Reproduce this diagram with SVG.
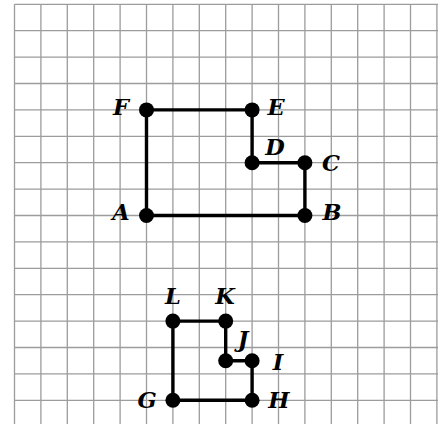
<svg xmlns="http://www.w3.org/2000/svg" width="438" height="424" viewBox="0 0 438 424">
<style>
.grid{stroke:#9c9c9c;stroke-width:1.3;fill:none}
.edge{stroke:#000;stroke-width:3.4;fill:none;stroke-linejoin:miter}
.pt{fill:#000}
.lbl{font-family:"DejaVu Serif","Liberation Serif",serif;font-weight:bold;font-style:italic;font-size:22.5px;fill:#000}
</style>
<rect width="438" height="424" fill="#fff"/>
<g id="grid" class="grid">
<path d="M14.5 4.3V424M40.9 4.3V424M67.3 4.3V424M93.7 4.3V424M120.1 4.3V424M146.5 4.3V424M172.9 4.3V424M199.3 4.3V424M225.7 4.3V424M252.1 4.3V424M278.5 4.3V424M304.9 4.3V424M331.3 4.3V424M357.7 4.3V424M384.1 4.3V424M410.5 4.3V424M436.9 4.3V424"/>
<path d="M14.5 4.3H438M14.5 30.7H438M14.5 57.1H438M14.5 83.5H438M14.5 109.9H438M14.5 136.3H438M14.5 162.7H438M14.5 189.1H438M14.5 215.5H438M14.5 241.9H438M14.5 268.3H438M14.5 294.7H438M14.5 321.1H438M14.5 347.5H438M14.5 373.9H438M14.5 400.3H438"/>
</g>
<g id="connectors" class="edge">
<path d="M146.5 215.5H304.9V162.7H252.1V109.9H146.5Z"/>
<path d="M172.9 400.3H252.1V360.7H225.7V321.1H172.9Z"/>
</g>
<g id="A"><circle class="pt" cx="146.5" cy="215.5" r="7.5"/><text class="lbl" x="121" y="220" text-anchor="middle">A</text></g>
<g id="B"><circle class="pt" cx="304.9" cy="215.5" r="7.5"/><text class="lbl" x="332" y="220" text-anchor="middle">B</text></g>
<g id="C"><circle class="pt" cx="304.9" cy="162.7" r="7.5"/><text class="lbl" x="331" y="171" text-anchor="middle">C</text></g>
<g id="D"><circle class="pt" cx="252.1" cy="162.7" r="7.5"/><text class="lbl" x="275" y="155" text-anchor="middle">D</text></g>
<g id="E"><circle class="pt" cx="252.1" cy="109.9" r="7.5"/><text class="lbl" x="276" y="115" text-anchor="middle">E</text></g>
<g id="F"><circle class="pt" cx="146.5" cy="109.9" r="7.5"/><text class="lbl" x="121" y="115" text-anchor="middle">F</text></g>
<g id="G"><circle class="pt" cx="172.9" cy="400.3" r="7.5"/><text class="lbl" x="147" y="408" text-anchor="middle">G</text></g>
<g id="H"><circle class="pt" cx="252.1" cy="400.3" r="7.5"/><text class="lbl" x="279" y="408" text-anchor="middle">H</text></g>
<g id="I"><circle class="pt" cx="252.1" cy="360.7" r="7.5"/><text class="lbl" x="278" y="370" text-anchor="middle">I</text></g>
<g id="J"><circle class="pt" cx="225.7" cy="360.7" r="7.5"/><text class="lbl" x="243" y="347" text-anchor="middle">J</text></g>
<g id="K"><circle class="pt" cx="225.7" cy="321.1" r="7.5"/><text class="lbl" x="225" y="304" text-anchor="middle">K</text></g>
<g id="L"><circle class="pt" cx="172.9" cy="321.1" r="7.5"/><text class="lbl" x="173" y="304" text-anchor="middle">L</text></g>
</svg>
